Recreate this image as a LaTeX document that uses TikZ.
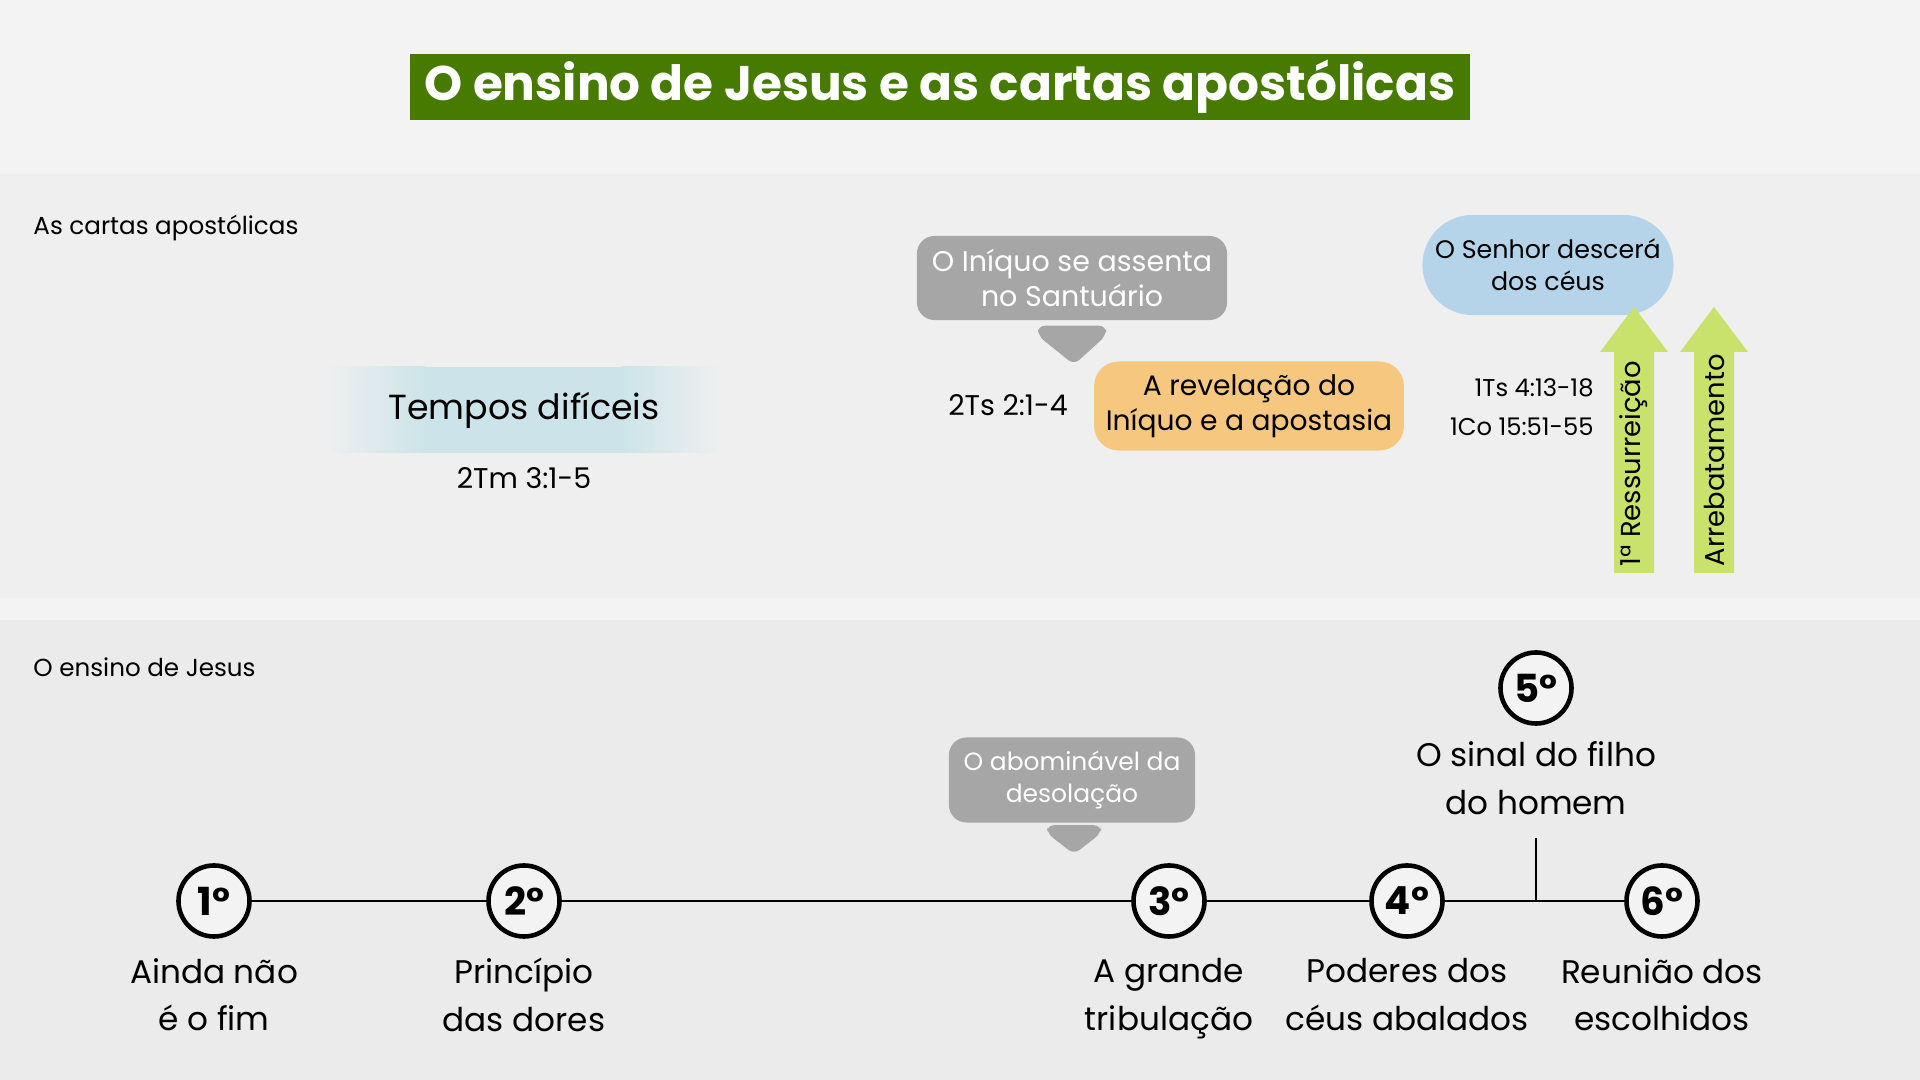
\documentclass[tikz,border=0pt]{standalone}
\usepackage{fontspec}
\setmainfont{Poppins}
\usetikzlibrary{positioning,calc}

\definecolor{pagebg}{HTML}{F3F3F3}
\definecolor{upperbg}{HTML}{EFEFEF}
\definecolor{lowerbg}{HTML}{EBEBEB}
\definecolor{titlegreen}{HTML}{467A00}
\definecolor{calloutgray}{HTML}{A6A6A6}
\definecolor{revorange}{HTML}{F6C87F}
\definecolor{skyblue}{HTML}{B6D4E9}
\definecolor{arrowgreen}{HTML}{C9E26B}
\definecolor{glowblue}{HTML}{CCE4E9}

\tikzset{
  callout/.style={fill=calloutgray,text=white,rounded corners=5pt,align=center,font=\fontsize{8.1}{10}\selectfont},
  numcirc/.style={circle,draw=black,line width=1.3pt,fill=pagebg,minimum size=0.71cm,inner sep=0pt,font=\fontsize{11}{11}\bfseries\selectfont},
  eventlbl/.style={align=center,font=\fontsize{9.3}{13.6}\selectfont},
  reftxt/.style={font=\fontsize{8.1}{11}\selectfont},
  sectlbl/.style={anchor=west,font=\fontsize{7}{8}\selectfont},
  timeline/.style={line width=0.65pt,black},
}

\begin{document}
\begin{tikzpicture}[x=0.01cm,y=-0.01cm]
  \useasboundingbox (0,0) rectangle (1920,1080);
  \fill[pagebg] (0,0) rectangle (1920,1080);
  \fill[upperbg] (0,174) rectangle (1920,598);
  \fill[lowerbg] (0,620) rectangle (1920,1080);

  % title
  \node[fill=titlegreen,text=white,inner ysep=0pt,minimum width=10.59cm,minimum height=0.65cm,
        font=\fontsize{13.8}{15}\bfseries\selectfont] (title) at (940,87)
        {O ensino de Jesus e as cartas apostólicas};

  % as cartas apostolicas
  \node[sectlbl] (cartas) at (21,228) {As cartas apostólicas};

  \shade[left color=upperbg,right color=glowblue] (325,367) rectangle (425,453);
  \fill[glowblue] (425,367) rectangle (622,453);
  \shade[left color=glowblue,right color=upperbg] (622,367) rectangle (722,453);
  \node[font=\fontsize{9.9}{11}\selectfont] (tempos) at (524,410) {Tempos difíceis};
  \node[reftxt] (tm) at (524,478) {2Tm 3:1-5};

  \node[callout,minimum width=3.1cm,minimum height=0.84cm] (iniquo) at (1072,278)
        {O Iníquo se assenta\\no Santuário};
  \fill[calloutgray,rounded corners=2pt] ($(iniquo.south)+(-34,5)$) -- ++(68,0) -- ++(0,10)
        -- ($(iniquo.south)+(2,44)$) -- ($(iniquo.south)+(-34,15)$) -- cycle;

  \node[reftxt] (ts2) at (1008,405) {2Ts 2:1-4};
  \node[fill=revorange,rounded corners=7pt,minimum width=3.08cm,minimum height=0.89cm,
        align=center,font=\fontsize{8}{10}\selectfont] (revel) at (1249,406)
        {A revelação do\\Iníquo e a apostasia};

  \node[fill=skyblue,rounded corners=0.5cm,minimum width=2.51cm,minimum height=1.0cm,
        align=center,font=\fontsize{7.2}{9}\selectfont] (senhor) at (1548,265)
        {O Senhor descerá\\dos céus};
  \node[align=right,anchor=east,font=\fontsize{6.9}{11}\selectfont] (ts1) at (1606,407)
        {1Ts 4:13-18\\1Co 15:51-55};

  \foreach \x/\txt/\nm in {1634/1ª Ressurreição/ressur,1714/Arrebatamento/arreb}{
    \fill[arrowgreen] ({\x-20},573) -- ({\x-20},352) -- ({\x-34},352) -- (\x,307)
          -- ({\x+34},352) -- ({\x+20},352) -- ({\x+20},573) -- cycle;
    \node[rotate=90,anchor=west,inner sep=0pt,font=\fontsize{7.8}{9}\selectfont] (\nm) at (\x,567) {\txt};
  }

  % o ensino de jesus
  \node[sectlbl] (ensino) at (21,667) {O ensino de Jesus};

  \node[callout,minimum width=2.46cm,minimum height=0.85cm,font=\fontsize{7.1}{9}\selectfont]
        (abomin) at (1072,780) {O abominável da\\desolação};
  \fill[calloutgray,rounded corners=2pt] ($(abomin.south)+(-25,2)$) -- ++(54,0) -- ++(0,8)
        -- ($(abomin.south)+(2,31)$) -- ($(abomin.south)+(-25,10)$) -- cycle;

  \node[numcirc] (n1) at (214,901) {1°};
  \node[numcirc] (n2) at (524,901) {2°};
  \node[numcirc] (n3) at (1169,901) {3°};
  \node[numcirc] (n4) at (1407,901) {4°};
  \node[numcirc] (n6) at (1662,901) {6°};
  \node[numcirc] (n5) at (1536,688) {5°};

  \foreach \a/\b in {n1/n2,n2/n3,n3/n4,n4/n6}
    \draw[timeline] (\a) -- (\b);
  \coordinate (t5) at (1536,838);
  \draw[timeline] (t5) -- (t5 |- n4);

  \node[eventlbl,below=2pt of n1] (l1) {Ainda não\\é o fim};
  \node[eventlbl,below=2pt of n2] (l2) {Princípio\\das dores};
  \node[eventlbl,below=2pt of n3] (l3) {A grande\\tribulação};
  \node[eventlbl,below=2pt of n4] (l4) {Poderes dos\\céus abalados};
  \node[eventlbl,below=2pt of n6] (l6) {Reunião dos\\escolhidos};
  \node[eventlbl,below=1pt of n5] (l5) {O sinal do filho\\do homem};
\end{tikzpicture}
\end{document}
